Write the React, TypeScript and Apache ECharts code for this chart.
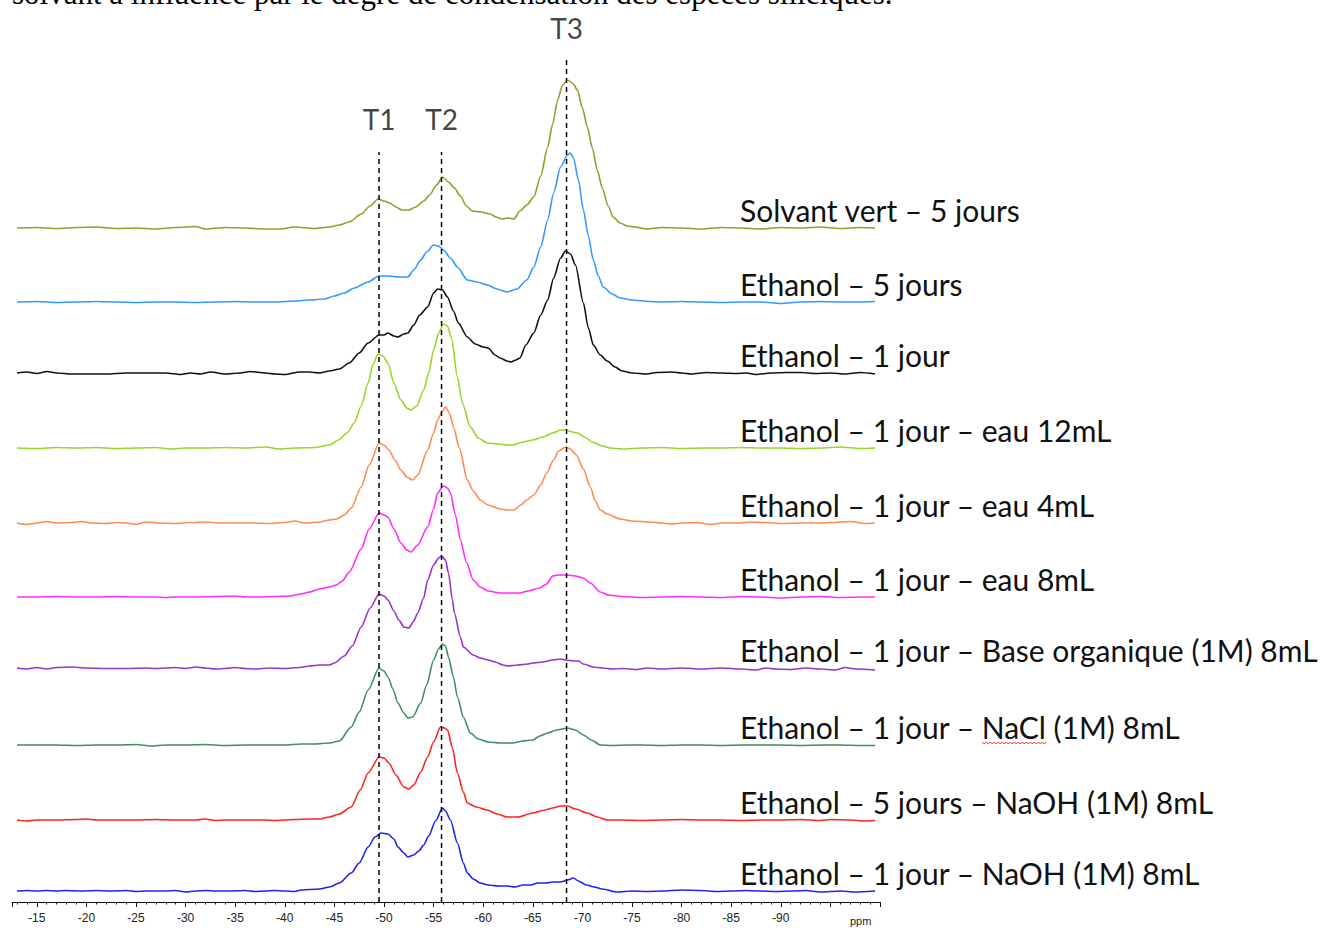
import React, { useEffect, useRef } from 'react';
import * as echarts from 'echarts';

// ---------- DATA ----------
const seriesNames = [
  'Solvant vert – 5 jours',
  'Ethanol – 5 jours',
  'Ethanol – 1 jour',
  'Ethanol – 1 jour – eau 12mL',
  'Ethanol – 1 jour – eau 4mL',
  'Ethanol – 1 jour – eau 8mL',
  'Ethanol – 1 jour – Base organique (1M) 8mL',
  'Ethanol – 1 jour – NaCl (1M) 8mL',
  'Ethanol – 5 jours – NaOH (1M) 8mL',
  'Ethanol – 1 jour – NaOH (1M) 8mL',
];
const seriesColors = ['#9a9a2c', '#3399ff', '#111111', '#9bd42a', '#ff8a50', '#ff2cff', '#9932cc', '#3f8f5f', '#ff2222', '#2222f0'];
// vertical stacking offsets (intensity units)
const baselineOffsets = [674, 600, 529, 454, 379, 305, 234, 157, 82, 11];

// [shift (ppm, shown negative), intensity]
const solvantVert5j = [[13,0],[15,0.5],[17,-0.5],[19,0.5],[21,1],[23,-0.5],[25,0],[27,-1],[29,0.5],[31,1.5],[32,-1],[34,0.5],[36,0],[38,-1],[39.5,-1],[41,1],[43,-0.5],[44.5,1],[45.5,3],[46.5,6],[47.7,14],[48.6,22],[49.4,29],[50,27],[50.6,25],[51.2,21],[51.8,18],[52.5,18],[53.2,21],[54,27],[54.6,33],[55.3,43],[55.9,51],[56.5,46],[57.1,40],[57.7,32],[58.3,22],[58.9,17],[59.8,16],[60.7,14],[61.3,11],[61.9,9],[62.5,10],[63.1,9],[63.7,17],[64.4,23],[65.1,31],[65.8,52],[66.5,81],[67,104],[67.5,128],[68,143],[68.5,148],[69,145],[69.5,138],[70,120],[70.5,101],[71,80],[71.5,58],[72,40],[72.6,22],[73.1,11],[73.8,5],[74.5,2],[75.3,1],[76.5,-1],[78,0.5],[80,0],[82,-1],[84,0.5],[86,0],[88,-1],[90,0.5],[92,0],[94,1],[96,-0.5],[98,0.5],[99.5,0]];
const ethanol5j = [[13,0],[15,0.5],[17,-0.5],[19,0],[21,0.5],[23,0],[25,-0.5],[27,0],[29,0],[31,-0.5],[33,0],[35,0.5],[37,0],[39,0],[41,1],[42.5,2],[44,3],[45,6],[46,9],[47,14],[48.4,20],[49.5,26],[50.5,26],[51.5,25],[52.4,25],[53,32],[53.7,42],[54.3,50],[55,57],[55.5,56],[56,52],[56.7,44],[57.4,35],[58.4,22],[59.4,20],[60.4,17],[61.4,13],[62.4,10],[63.4,13],[64.4,22],[65.1,35],[65.8,55],[66.5,82],[67.1,109],[67.8,135],[68.5,147],[68.8,149],[69.1,144],[69.6,122],[70.1,92],[70.6,66],[71.1,42],[71.6,26],[72.1,15],[73,8],[73.8,4],[75,2],[76.8,0.5],[78,0],[80,0.5],[82,0],[84,-0.5],[86,0],[88,0],[90,-1.5],[92,0],[94,0.5],[96,0],[98,0],[99.5,0.5]];
const ethanol1j = [[13,0],[14,1],[15,-0.5],[16,1.5],[17,0],[18.5,-1],[20,-1],[22,-1],[24,0],[26,0],[28,0],[29.5,-1.5],[30.5,0],[31.5,-1],[32.5,1],[34,-1],[35.5,0],[36.5,1.5],[38,0],[39,-1],[40,-1.5],[41.5,1],[42.5,1],[43.5,0],[44.5,2],[45.5,4],[46.5,10],[47.5,20],[48.4,30],[49.5,38],[50,38],[50.4,40],[51,37],[51.4,36],[52,39],[52.4,40],[53,48],[53.6,58],[54.4,66],[55,80],[55.4,84],[55.9,83],[56.4,76],[57,62],[57.5,50],[58.4,36],[59.2,29],[60,26],[60.5,25],[61.2,18],[61.7,15],[62.4,12],[62.8,11],[63.3,13],[63.7,15],[64.3,28],[65.1,40],[65.8,58],[66.5,73],[67.1,95],[67.8,115],[68.3,122],[68.8,119],[69.3,108],[70.1,70],[70.6,45],[71.1,28],[71.8,18],[72.5,12],[73.3,6],[74,2],[75,0],[76.5,-1],[77.5,0.5],[79,1],[80,0],[81,-1],[82.5,0.5],[84,0],[85.5,-0.5],[86.5,0],[87.5,-1.5],[89,0],[90.5,0.5],[92,0.5],[93.5,-0.5],[95,0],[96.5,-1],[98,0.5],[99.5,-1]];
const eau12mL = [[13,0],[15,-0.5],[17,0.5],[19,0],[21,0.5],[23,-0.5],[25,0],[27,0.5],[28.5,-1],[30,0],[32,0],[34,0.5],[36,0],[38,1],[39.5,-1],[41,0],[43,0.5],[44.5,3],[45.4,8],[46.3,15],[47,25],[47.7,42],[48.4,65],[48.9,84],[49.4,94],[49.9,92],[50.4,85],[51,65],[51.7,48],[52.3,40],[52.7,38],[53.3,42],[54,58],[54.5,75],[55,98],[55.5,115],[56,124],[56.4,122],[56.8,110],[57.4,71],[57.9,45],[58.7,21],[59.5,10],[60.4,5],[61.5,4],[62.5,3],[63,3],[64,6],[65,8],[66,11],[67,15],[67.8,18],[68.3,18],[69,16],[69.5,15],[70.2,11],[71,6],[72,2],[72.8,0],[74,-1],[76,0],[78,0.5],[80,-0.5],[82,0],[84,0],[86,0.5],[88,0],[90,0],[92,-0.5],[94,0],[96,1],[98,-0.5],[99.5,0]];
const eau4mL = [[13,0],[14,-1.5],[15,0],[16,1.5],[17,0],[18.5,0.5],[19.5,1.5],[20.5,0],[22,-0.5],[23,0.5],[24,0],[25,-1.5],[26,1],[27.5,0],[29,-0.5],[30.5,0.5],[32,1],[33.5,0],[35,0],[37,0],[38.5,-0.5],[40,0.5],[41,2],[42,0],[43.5,1],[44.5,3],[45.2,4],[46,8],[46.7,15],[47.7,36],[48.5,58],[49.5,80],[50,78],[50.5,73],[51.1,63],[51.7,53],[52.3,46],[52.9,43],[53.4,48],[54.4,73],[55,90],[55.4,103],[55.9,112],[56.2,116],[56.6,110],[57,96],[57.6,75],[58.4,43],[59,32],[59.7,23],[60.5,18],[61.7,14],[62.5,13],[63.1,13],[63.8,18],[64.4,23],[65.1,28],[65.8,38],[66.4,50],[67.1,63],[67.6,72],[68.3,76],[68.8,74],[69.4,68],[70.1,54],[70.8,36],[71.3,22],[71.8,13],[72.5,9],[73.8,4],[75,2],[76.8,1],[78,0],[79,-1],[80,0],[81.5,0.5],[83,-1.5],[84,0],[85.5,0],[87,1],[88.5,0.5],[90,-0.5],[92,0],[93.5,0],[95,0.5],[97,1.5],[98.5,-0.5],[99.5,0]];
const eau8mL = [[13,0],[15,0],[17,0.5],[19,0],[21,0],[23,0.5],[25,0],[27,0],[28,-0.5],[29,0],[31,0],[33,0.5],[35,1],[36,0],[37.5,0],[39,0.5],[40.5,1],[41.6,3],[42.5,5],[43.5,8],[44.5,10],[45.2,12],[45.8,16],[46.5,25],[47.7,48],[48.5,68],[49.5,84],[50,82],[50.4,80],[51,68],[51.7,54],[52.3,47],[52.7,45],[53.4,52],[54.4,70],[55,88],[55.4,104],[56,111],[56.4,109],[56.7,104],[57.2,82],[57.7,57],[58.3,35],[59,17],[59.7,10],[60.5,6],[61.7,4],[62.7,4],[63.7,4],[64.5,6],[65.7,9],[66.4,13],[67,21],[67.6,22],[68.5,22],[69.3,21],[70.1,19],[70.8,14],[71.8,5],[72.6,2],[74,0.5],[76,-0.5],[78,0],[80,0.5],[82,0],[84,-0.5],[86,0.5],[88,0],[90,-1],[92,0],[94,0.5],[96,-0.5],[98,0],[99.5,0]];
const baseOrganique = [[13,0],[14,-1],[15,0.5],[16,-1],[17,0.5],[18.5,1],[20,0],[22,-0.5],[24,-0.5],[26,0],[27,-0.5],[28,0],[29,0.5],[30,-0.5],[31,1],[32,0],[33,-1],[34,-0.5],[35,0.5],[36,-0.5],[37,-1],[38.5,0],[40,-0.5],[41.5,0.5],[42.5,2],[43.5,3],[44.5,3],[45,5],[46,12],[46.8,22],[47.7,41],[48.6,60],[49.5,74],[50,72],[50.4,68],[51,57],[51.5,48],[52,41],[52.5,40],[53,47],[53.4,55],[54,70],[54.4,88],[55,103],[55.5,110],[55.8,112],[56.2,108],[56.5,95],[56.9,68],[57.1,55],[57.7,31],[58,21],[59,13],[59.7,10],[60.5,8],[61.2,6],[62,3],[62.5,2],[63.5,3],[64.5,4],[65,5],[66,6],[67,8],[67.8,9],[68.4,8],[69.1,7],[69.6,7],[70.1,4],[71.1,1],[72,0],[73,-1],[74,-0.5],[75.5,-1.5],[76.5,0],[78,-1],[80,0],[82,-1],[84,0],[86,-1],[87.5,-2],[88.5,0],[89.5,-1],[91,-1.5],[92.5,0],[94,-1],[95.5,-2],[96.5,0.5],[97.5,-1],[99.5,-2]];
const naCl = [[13,0],[15,0],[17,0],[19,-0.5],[21,0],[23,0],[25,0.5],[26.5,-1],[28,0],[30,0],[32,0.5],[34,-0.5],[36,0],[38,0],[40,0],[41.6,1],[43,1],[44.5,2],[45.5,4],[46.7,18],[47.5,33],[48.4,55],[49.5,77],[50,74],[50.4,68],[50.9,56],[51.4,42],[52,32],[52.4,27],[52.9,28],[53.7,42],[54.3,60],[55,85],[55.5,96],[55.9,101],[56.2,99],[56.5,88],[57,68],[57.4,48],[58,28],[58.7,12],[59.5,6],[60.5,3],[61.7,2],[63,2],[64,4],[65,5],[65.7,9],[66.5,12],[67.4,15],[68.5,17],[69.3,15],[70.1,10],[70.9,5],[71.8,0],[73,-0.5],[74.5,0],[76,0],[78,-0.5],[80,0],[82,0],[84,-0.5],[86,0],[88,0],[90,0],[92,-0.5],[94,0],[96,0],[98,-0.5],[99.5,-0.5]];
const naOH5j = [[13,0],[14,-1],[15,0],[17,0],[19,0.5],[20,1],[21,0],[23,0],[25,0],[27,0.5],[29,0],[31,0],[32,1],[33,-0.5],[34,0],[36,0],[38,0],[39,-0.5],[40,0],[41,0.5],[42.5,1],[43.5,1],[44.5,3],[45.5,6],[46.7,13],[47.6,30],[48.4,47],[49.5,63],[50,62],[50.5,57],[51.2,45],[52,33],[52.5,31],[53,35],[53.7,48],[54.4,63],[55,78],[55.7,93],[56.1,92],[56.4,90],[56.9,72],[57.4,47],[58,28],[58.4,17],[59.3,13],[60.4,10],[61.4,6],[62.4,3],[63.5,3],[65,7],[66.2,10],[67,12],[67.8,14],[68.5,14],[69.3,11],[70.5,7],[71.5,3],[72.5,0],[74,0],[76,-0.5],[78,0],[80,0.5],[82,0],[84,0],[86,-0.5],[88,0],[90,0],[92,0.5],[94,-0.5],[95,0.5],[97,0],[98.5,-1],[99.5,-0.5]];
const naOH1j = [[13,0],[14,0.5],[15,0],[16,0.5],[17,0],[18,0.5],[19.5,0],[21,0.5],[22.5,0],[24,0.5],[25,-0.5],[26,0],[28,0],[29,0.5],[30,-1],[31,0],[32,0.5],[33,0],[34.5,0],[36,0.5],[37,-0.5],[38,0],[39,0.5],[40,0],[41,-0.5],[41.6,1],[42.5,1.5],[43.5,2],[44.5,4],[45.5,8],[46.7,18],[47.5,28],[48.4,44],[49.1,54],[49.7,58],[50.4,57],[51,52],[51.4,44],[52,38],[52.4,34],[53,36],[53.5,40],[54,46],[54.5,55],[55.2,70],[55.9,83],[56.2,80],[56.7,71],[57.4,48],[58,28],[58.4,18],[59,12],[59.7,8],[60.5,6],[61.5,5],[62.4,5],[63.2,4],[64,6],[64.8,6],[65.5,8],[66.3,8],[67,9],[67.8,9],[68.5,11],[69.1,13],[69.6,10],[70.4,6],[71.2,4],[72,2],[73.5,-1],[75,0],[76.5,-0.5],[78,0],[80,1],[82,0.5],[83.5,-0.5],[85,0],[86.5,0.5],[88,0],[89.5,-0.5],[91,0],[92.5,0.5],[94,-1],[96,0],[97.5,-1],[99.5,0]];

const spectra = [solvantVert5j, ethanol5j, ethanol1j, eau12mL, eau4mL, eau8mL, baseOrganique, naCl, naOH5j, naOH1j];

// reference positions (ppm) and dashed line tops / label heights (intensity units)
const refNames = ['T1', 'T2', 'T3'];
const refShifts = [-49.5, -55.8, -68.4];
const refLineTops = [750, 750, 844];
const refLabelLevels = [783, 783, 874];

const tickLabels = [-15, -20, -25, -30, -35, -40, -45, -50, -55, -60, -65, -70, -75, -80, -85, -90];
const axisUnit = 'ppm';
const headerText = 'solvant a influencé par le degré de condensation des espèces siliciques.';

const LABEL_FONT = 'Lato, "Noto Sans", sans-serif';
const LABEL_SIZE = 30;

function measure(text: string, font: string): number {
  const c = document.createElement('canvas').getContext('2d');
  if (!c) return 0;
  c.font = font;
  return c.measureText(text).width;
}

export default function App() {
  const ref = useRef<HTMLDivElement>(null);
  useEffect(() => {
    if (!ref.current) return;
    const chart = echarts.init(ref.current, null, { renderer: 'svg' });
    const GRID_TOP = 2;
    const GRID_H = 900;
    const toPixY = (v: number) => GRID_TOP + GRID_H - v;

    const lineSeries: any[] = spectra.map((arr, i) => ({
      type: 'line',
      name: seriesNames[i],
      data: arr.map(([p, v]) => [-p, v + baselineOffsets[i]]),
      showSymbol: false,
      symbol: 'none',
      smooth: 0.25,
      smoothMonotone: 'x',
      lineStyle: { color: seriesColors[i], width: 1.6 },
      z: 2,
      silent: true,
    }));

    const dashSeries: any[] = refShifts.map((x, i) => ({
      type: 'line',
      data: [[x, 0], [x, refLineTops[i]]],
      symbol: 'none',
      lineStyle: { color: '#000', width: 1.5, type: [5, 4] },
      z: 3,
      silent: true,
    }));

    const labelSeries = {
      type: 'scatter',
      symbolSize: 1,
      itemStyle: { color: 'rgba(0,0,0,0)' },
      data: refShifts.map((x, i) => [x, refLabelLevels[i], refNames[i]]),
      label: {
        show: true,
        position: 'inside',
        formatter: (p: any) => p.value[2],
        fontFamily: LABEL_FONT,
        fontSize: 28,
        lineHeight: 28,
        color: '#111',
      },
      z: 4,
      silent: true,
    };

    const LABEL_X = 740;
    const graphics: any[] = seriesNames.map((name, i) => ({
      type: 'text',
      x: LABEL_X,
      y: toPixY(baselineOffsets[i]) - 18,
      style: {
        text: name,
        fontFamily: LABEL_FONT,
        fontSize: LABEL_SIZE,
        fill: '#111',
        verticalAlign: 'middle',
        align: 'left',
      },
      z: 10,
    }));

    // spell-check style wavy underline under "NaCl"
    const naclIdx = seriesNames.findIndex((s) => s.indexOf('NaCl') >= 0);
    if (naclIdx >= 0) {
      const font = `${LABEL_SIZE}px ${LABEL_FONT}`;
      const name = seriesNames[naclIdx];
      const pre = name.slice(0, name.indexOf('NaCl'));
      const x0 = LABEL_X + measure(pre, font);
      const w = measure('NaCl', font);
      const yU = toPixY(baselineOffsets[naclIdx]) - 18 + 15;
      const pts: number[][] = [];
      for (let k = 0; x0 + k * 2 <= x0 + w; k++) pts.push([x0 + k * 2, yU + (k % 2 === 0 ? 0 : 2)]);
      graphics.push({ type: 'polyline', shape: { points: pts }, style: { stroke: '#ff2020', lineWidth: 1, fill: null }, z: 11 });
    }

    graphics.push({
      type: 'text',
      x: 850,
      y: 921,
      style: { text: axisUnit, fontFamily: 'Liberation Sans, Arial, sans-serif', fontSize: 11, fill: '#222', verticalAlign: 'middle' },
    });
    graphics.push({
      type: 'text',
      x: 12,
      y: 9,
      style: {
        text: headerText,
        fontFamily: '"Liberation Serif", "Times New Roman", serif',
        fontSize: 31,
        lineHeight: 31,
        fill: '#000',
        verticalAlign: 'bottom',
      },
    });

    chart.setOption({
      animation: false,
      backgroundColor: '#fff',
      grid: { left: 12, top: GRID_TOP, width: 868, height: GRID_H, containLabel: false },
      xAxis: {
        type: 'value',
        min: -100,
        max: -12.5,
        interval: 5,
        inverse: true,
        axisLine: { show: true, lineStyle: { color: '#111', width: 1 } },
        axisTick: { show: true, length: 5, lineStyle: { color: '#111' } },
        minorTick: { show: true, splitNumber: 5, length: 2.5, lineStyle: { color: '#111' } },
        splitLine: { show: false },
        axisLabel: {
          margin: 10,
          fontSize: 12,
          color: '#222',
          fontFamily: 'Liberation Sans, Arial, sans-serif',
          formatter: (v: number) => (tickLabels.indexOf(v) >= 0 ? String(v) : ''),
        },
      },
      yAxis: { type: 'value', min: 0, max: GRID_H, show: false },
      series: [...lineSeries, ...dashSeries, labelSeries],
      graphic: graphics,
    });
    return () => chart.dispose();
  }, []);
  return <div ref={ref} style={{ position: 'fixed', left: 0, top: 0, width: 1327, height: 928, background: '#fff' }} />;
}
